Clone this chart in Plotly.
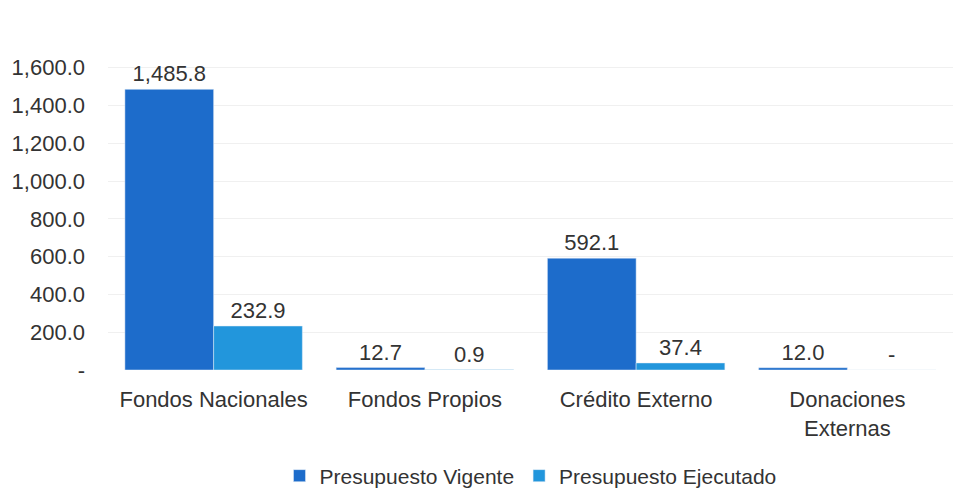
import plotly.graph_objects as go

categories = ["Fondos Nacionales", "Fondos Propios", "Crédito Externo", "Donaciones<br>Externas"]
vigente = [1485.8, 12.7, 592.1, 12.0]
ejecutado = [232.9, 0.9, 37.4, 0.0]
tick_vals = [0, 200, 400, 600, 800, 1000, 1200, 1400, 1600]

def fmt(v):
    return "-" if v == 0 else f"{v:,.1f}"

tick_text = [fmt(v) for v in tick_vals]

FONT = "Arial, Liberation Sans, sans-serif"
FS = 22

fig = go.Figure()
fig.add_trace(go.Bar(
    name="Presupuesto Vigente", x=categories, y=vigente,
    marker=dict(color="#1d6ccb"),
    text=[fmt(v) for v in vigente], textposition="outside",
    textfont=dict(size=FS, color="#333333", family=FONT),
    cliponaxis=False,
))
fig.add_trace(go.Bar(
    name="Presupuesto Ejecutado", x=categories, y=ejecutado,
    marker=dict(color="#2296dc"),
    text=[fmt(v) for v in ejecutado], textposition="outside",
    textfont=dict(size=FS, color="#333333", family=FONT),
    cliponaxis=False,
))

fig.update_layout(
    width=973, height=494,
    margin=dict(l=108, r=20, t=30, b=124, autoexpand=False),
    paper_bgcolor="white", plot_bgcolor="white",
    barmode="group", bargap=0.16, bargroupgap=0.0,
    font=dict(family=FONT, size=FS, color="#333333"),
    showlegend=True,
    legend=dict(orientation="h", x=0.5, xanchor="center", y=-0.372, yanchor="bottom",
                font=dict(size=21, color="#333333"), traceorder="normal", itemwidth=30),
    xaxis=dict(showgrid=False, showline=False, ticks="", tickfont=dict(size=FS),
               ticklabelstandoff=14),
    yaxis=dict(range=[0, 1800], tickvals=tick_vals, ticktext=tick_text,
               showgrid=True, gridcolor="#f0f0f0", zeroline=False, showline=False,
               ticks="", tickfont=dict(size=FS), ticklabelstandoff=22),
)

fig.write_html("out.html")
